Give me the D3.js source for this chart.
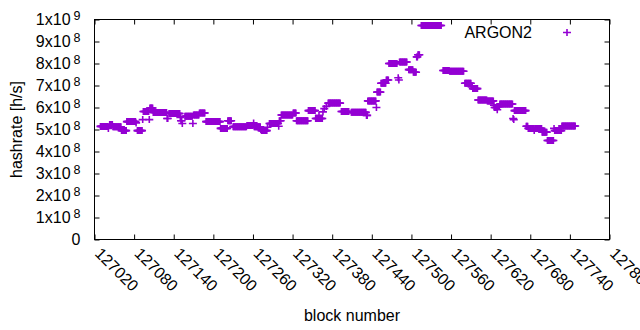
<!DOCTYPE html>
<html>
<head>
<meta charset="utf-8">
<title>ARGON2 hashrate per block</title>
<style>
body { margin: 0; background: #fff; }
text { font-family: "Liberation Sans", Arial, sans-serif; fill: #000; }
</style>
</head>
<body>
<div id="chart"></div>
<script src="https://d3js.org/d3.v7.min.js"></script>
<script>

// runs of consecutive blocks with the same hashrate
// first block of the run, number of blocks, hashrate [h/s]
var runStart = [127029, 127041, 127043, 127048, 127061, 127069, 127083, 127085, 127093, 127094,
  127103, 127104, 127109, 127130, 127133, 127150, 127151, 127153, 127157, 127169,
  127170, 127179, 127189, 127211, 127222, 127230, 127251, 127261, 127262, 127272,
  127273, 127282, 127285, 127299, 127300, 127303, 127321, 127326, 127344, 127355,
  127360, 127361, 127366, 127368, 127371, 127374, 127394, 127409, 127432, 127434,
  127447, 127448, 127454, 127462, 127466, 127480, 127481, 127482, 127496, 127503,
  127508, 127510, 127515, 127548, 127558, 127581, 127591, 127593, 127601, 127615,
  127625, 127626, 127630, 127631, 127634, 127654, 127655, 127656, 127674, 127677,
  127686, 127687, 127698, 127706, 127716, 127717, 127728];
var runLength = [12, 1, 5, 13, 8, 14, 1, 8, 1, 9,
  1, 5, 21, 2, 17, 1, 2, 1, 12, 1,
  9, 9, 22, 11, 6, 21, 10, 1, 10, 1,
  9, 1, 14, 1, 3, 18, 5, 18, 11, 5,
  1, 5, 1, 1, 1, 19, 12, 23, 2, 13,
  1, 6, 8, 4, 13, 1, 1, 12, 7, 5,
  2, 3, 31, 10, 22, 10, 2, 8, 14, 10,
  1, 4, 1, 3, 20, 1, 1, 18, 3, 9,
  1, 11, 8, 10, 1, 11, 21];
var runValue = [5.14e8, 5.05e8, 5.23e8, 5.12e8, 4.95e8, 5.36e8, 5.3e8, 4.95e8, 5.45e8, 5.82e8,
  5.45e8, 5.98e8, 5.77e8, 5.5e8, 5.73e8, 5.55e8, 5.4e8, 5.27e8, 5.6e8, 5.27e8,
  5.66e8, 5.75e8, 5.36e8, 5.05e8, 5.4e8, 5.13e8, 5.18e8, 5.3e8, 5.12e8, 5.0e8,
  4.95e8, 5.1e8, 5.27e8, 5.15e8, 5.4e8, 5.66e8, 5.75e8, 5.4e8, 5.86e8, 5.5e8,
  5.65e8, 5.5e8, 5.8e8, 5.95e8, 6.05e8, 6.2e8, 5.82e8, 5.78e8, 5.64e8, 6.3e8,
  6.0e8, 6.7e8, 7.1e8, 7.25e8, 8.0e8, 7.35e8, 7.25e8, 8.07e8, 7.72e8, 7.6e8,
  8.3e8, 8.4e8, 9.73e8, 7.68e8, 7.65e8, 7.1e8, 6.95e8, 6.86e8, 6.34e8, 6.3e8,
  6.1e8, 6.0e8, 5.9e8, 6.05e8, 6.16e8, 5.5e8, 5.45e8, 5.86e8, 5.15e8, 5.05e8,
  4.95e8, 5.05e8, 4.88e8, 4.5e8, 5.05e8, 4.95e8, 5.16e8];

var xTicks = [127020, 127080, 127140, 127200, 127260, 127320, 127380, 127440,
  127500, 127560, 127620, 127680, 127740, 127800];
var yTicks = [0, 1e8, 2e8, 3e8, 4e8, 5e8, 6e8, 7e8, 8e8, 9e8, 1e9];

var seriesName = "ARGON2";
var color = "#9400d3";

var width = 640, height = 330;
var plotLeft = 94.5, plotRight = 609.5, plotTop = 19.5, plotBottom = 239.5;

var points = [];
runStart.forEach(function(s, i) {
  for (var k = 0; k < runLength[i]; k++) {
    points.push({ block: s + k, value: runValue[i] });
  }
});

var x = d3.scaleLinear().domain([xTicks[0], xTicks[xTicks.length - 1]]).range([plotLeft, plotRight]);
var y = d3.scaleLinear().domain([0, 1e9]).range([plotBottom, plotTop]);

var svg = d3.select("#chart").append("svg")
  .attr("width", width)
  .attr("height", height);

svg.append("rect").attr("width", width).attr("height", height).attr("fill", "#fff");

// axes with inward ticks, mirrored on top and right
var xAxis = svg.append("g")
  .attr("transform", "translate(0," + plotBottom + ")")
  .call(d3.axisBottom(x).tickValues(xTicks).tickSize(-5).tickSizeOuter(0).tickFormat(d3.format("d")));
svg.append("g")
  .attr("transform", "translate(0," + plotTop + ")")
  .call(d3.axisTop(x).tickValues(xTicks).tickSize(-5).tickSizeOuter(0).tickFormat(""));
var yAxis = svg.append("g")
  .attr("transform", "translate(" + plotLeft + ",0)")
  .call(d3.axisLeft(y).tickValues(yTicks).tickSize(-5).tickSizeOuter(0).tickPadding(14));
svg.append("g")
  .attr("transform", "translate(" + plotRight + ",0)")
  .call(d3.axisRight(y).tickValues(yTicks).tickSize(-5).tickSizeOuter(0).tickFormat(""));

svg.selectAll(".domain").remove();
svg.selectAll(".tick line").attr("stroke", "#000");

svg.append("rect")
  .attr("x", plotLeft).attr("y", plotTop)
  .attr("width", plotRight - plotLeft).attr("height", plotBottom - plotTop)
  .attr("fill", "none").attr("stroke", "#000").attr("stroke-width", 1);

// x tick labels rotated like gnuplot "rotate by -45"
xAxis.selectAll(".tick text")
  .attr("y", 0).attr("dy", 0)
  .attr("text-anchor", "start")
  .attr("transform", "translate(-1,15) rotate(45)")
  .style("font-size", "16px");

// y tick labels as mantissa x 10^exponent
yAxis.selectAll(".tick text")
  .style("font-size", "16px")
  .attr("text-anchor", "end")
  .each(function(d) {
    var t = d3.select(this).text("");
    if (d === 0) { t.text("0"); return; }
    var e = Math.floor(Math.log10(d) + 1e-9);
    var m = Math.round(d / Math.pow(10, e));
    t.append("tspan").text(m + "x10");
    t.append("tspan").attr("dx", 3).attr("dy", "-0.4em")
      .style("font-size", "12.5px").text(e);
  });

// data points
svg.append("g").selectAll("path")
  .data(points)
  .enter().append("path")
  .attr("d", function(d) {
    var px = x(d.block), py = y(d.value);
    return "M" + (px - 4) + "," + py + "H" + (px + 4) +
      "M" + px + "," + (py - 3.5) + "V" + (py + 3.5);
  })
  .attr("fill", "none")
  .attr("stroke", color)
  .attr("stroke-width", 1.6);

// legend
svg.append("text")
  .attr("x", 532).attr("y", 37.5)
  .attr("text-anchor", "end")
  .style("font-size", "16px")
  .text(seriesName);
svg.append("path")
  .attr("d", "M563,32.5H571M567,29V36")
  .attr("stroke", color).attr("stroke-width", 1.6);

// axis titles
svg.append("text")
  .attr("transform", "translate(22," + ((plotTop + plotBottom) / 2) + ") rotate(-90)")
  .attr("text-anchor", "middle")
  .style("font-size", "16px")
  .text("hashrate [h/s]");
svg.append("text")
  .attr("x", (plotLeft + plotRight) / 2).attr("y", 321)
  .attr("text-anchor", "middle")
  .style("font-size", "16px")
  .text("block number");

</script>
</body>
</html>
